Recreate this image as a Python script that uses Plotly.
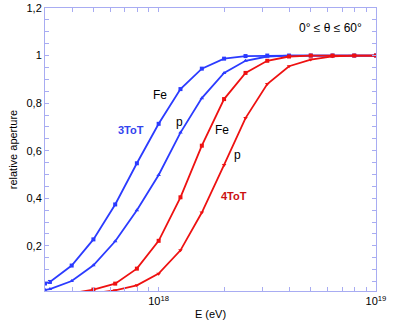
import plotly.graph_objects as go

# Energies (eV)
E_blue = [3.0e17, 3.16e17, 3.98e17, 5.01e17, 6.31e17, 7.94e17, 1.0e18, 1.26e18,
          1.58e18, 2.0e18, 2.51e18, 3.16e18, 3.98e18, 5.01e18, 6.31e18, 7.94e18, 1.0e19]
E_red_fe = [3.98e17, 5.01e17, 6.31e17, 7.94e17, 1.0e18, 1.26e18, 1.58e18, 2.0e18,
            2.51e18, 3.16e18, 3.98e18, 5.01e18, 6.31e18, 7.94e18, 1.0e19]
E_red_p = [5.01e17, 6.31e17, 7.94e17, 1.0e18, 1.26e18, 1.58e18, 2.0e18,
           2.51e18, 3.16e18, 3.98e18, 5.01e18, 6.31e18, 7.94e18, 1.0e19]

tot3_fe = [0.042, 0.048, 0.117, 0.227, 0.374, 0.547, 0.713, 0.859, 0.945, 0.987,
           0.998, 1.0, 1.0, 1.0, 1.0, 1.0, 1.0]
tot3_p = [0.015, 0.018, 0.052, 0.118, 0.219, 0.350, 0.498, 0.676, 0.821, 0.927,
          0.978, 0.996, 1.0, 1.0, 1.0, 1.0, 1.0]
tot4_fe = [0.0, 0.016, 0.041, 0.104, 0.221, 0.404, 0.621, 0.817, 0.927, 0.978,
           0.996, 1.0, 1.0, 1.0, 1.0]
tot4_p = [0.0, 0.013, 0.034, 0.083, 0.181, 0.340, 0.54, 0.737, 0.880, 0.955,
          0.983, 0.997, 1.0, 1.0]

x_tickvals = [1e18, 1e19]
x_ticktext = ["10<sup>18</sup>", "10<sup>19</sup>"]
x_minorvals = [3e17, 4e17, 5e17, 6e17, 7e17, 8e17, 9e17, 2e18, 3e18, 4e18,
               5e18, 6e18, 7e18, 8e18, 9e18]
y_tickvals = [0.2, 0.4, 0.6, 0.8, 1.0, 1.2]
y_ticktext = ["0,2", "0,4", "0,6", "0,8", "1", "1,2"]

BLUE = "#2b3bff"
RED = "#ee1111"
FRAME = "#a8acf2"

fig = go.Figure()
fig.add_trace(go.Scatter(x=E_blue, y=tot3_fe, mode="lines+markers",
                         line=dict(color=BLUE, width=1.8),
                         marker=dict(symbol="square", size=4, color=BLUE)))
fig.add_trace(go.Scatter(x=E_blue, y=tot3_p, mode="lines+markers",
                         line=dict(color=BLUE, width=1.8),
                         marker=dict(symbol="triangle-up", size=4, color=BLUE)))
fig.add_trace(go.Scatter(x=E_red_fe, y=tot4_fe, mode="lines+markers",
                         line=dict(color=RED, width=1.8),
                         marker=dict(symbol="square", size=4, color=RED)))
fig.add_trace(go.Scatter(x=E_red_p, y=tot4_p, mode="lines+markers",
                         line=dict(color=RED, width=1.8),
                         marker=dict(symbol="triangle-down", size=4, color=RED)))

font = "Liberation Sans, Arial, Helvetica, sans-serif"
W, H = 395, 327
pl, pr, pt, pb = 45, 19, 8, 36
pw, ph = W - pl - pr, H - pt - pb

labels = [
    (160, 95, "Fe", "black", 12),
    (179, 122, "p", "black", 12),
    (131, 130, "<b>3ToT</b>", "#3344ee", 11),
    (222, 130, "Fe", "black", 12),
    (237, 155, "p", "black", 12),
    (234, 196, "<b>4ToT</b>", "#cc1111", 11),
    (330, 28, "0° ≤ θ ≤ 60°", "black", 12),
]
for (px, py, txt, col, sz) in labels:
    fig.add_annotation(x=(px - pl) / pw, y=1 - (py - pt) / ph,
                       xref="paper", yref="paper", text=txt, showarrow=False,
                       xanchor="center", yanchor="middle",
                       font=dict(family=font, size=sz, color=col))

fig.update_layout(
    width=W, height=H,
    margin=dict(l=pl, r=pr, t=pt, b=pb, autoexpand=False),
    plot_bgcolor="white", paper_bgcolor="white",
    showlegend=False,
    font=dict(family=font, size=11, color="black"),
)

fig.update_xaxes(type="log", range=[17.4771, 19.0], tickmode="array",
                 tickvals=x_tickvals, ticktext=x_ticktext,
                 ticks="inside", ticklen=4, tickcolor=FRAME,
                 minor=dict(ticks="inside", ticklen=4, tickcolor=FRAME,
                            tickmode="array", tickvals=x_minorvals),
                 showline=True, linecolor=FRAME, linewidth=1, mirror="ticks",
                 showgrid=False, zeroline=False, automargin=False,
                 tickfont=dict(size=11),
                 title=dict(text="E (eV)", font=dict(size=11), standoff=4))
fig.update_yaxes(range=[0.01, 1.2], tickmode="array", tickvals=y_tickvals,
                 ticktext=y_ticktext,
                 ticks="inside", ticklen=4, tickcolor=FRAME,
                 minor=dict(ticks="inside", ticklen=4, tickcolor=FRAME, dtick=0.05,
                            tick0=0),
                 showline=True, linecolor=FRAME, linewidth=1, mirror="ticks",
                 showgrid=False, zeroline=False, automargin=False,
                 tickfont=dict(size=11),
                 title=dict(text="relative aperture", font=dict(size=11),
                            standoff=6))

fig.write_html("out.html", config={"displayModeBar": False},
               post_script="document.body.style.margin='0';")
